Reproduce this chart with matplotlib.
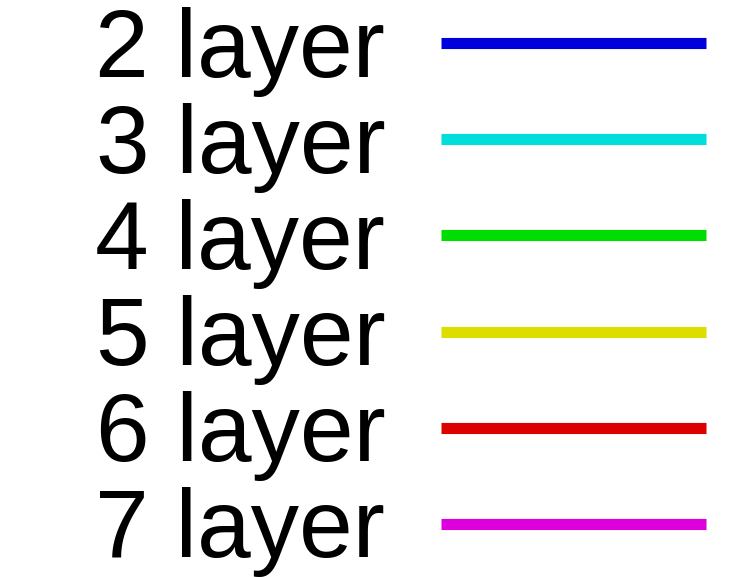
import matplotlib
matplotlib.use("Agg")
import matplotlib.pyplot as plt

labels = ["2 layer", "3 layer", "4 layer", "5 layer", "6 layer", "7 layer"]
colors = ["#0000dd", "#00dddd", "#00dd00", "#dddd00", "#dd0000", "#dd00dd"]

plt.rcParams['font.family'] = ['Liberation Sans', 'DejaVu Sans']

fig = plt.figure(figsize=(7.54, 5.77), dpi=100)
ax = fig.add_axes([0, 0, 1, 1])
ax.axis("off")

for lab, c in zip(labels, colors):
    ax.plot([], [], color=c, lw=8, solid_capstyle="butt", label=lab)

leg = ax.legend(loc="center", bbox_to_anchor=(0.5313, 0.4935), frameon=False,
                markerfirst=False, fontsize=69.5, handlelength=2.74,
                handletextpad=0.58, labelspacing=0.063, borderpad=0)

fig.savefig("out.png", dpi=100)
